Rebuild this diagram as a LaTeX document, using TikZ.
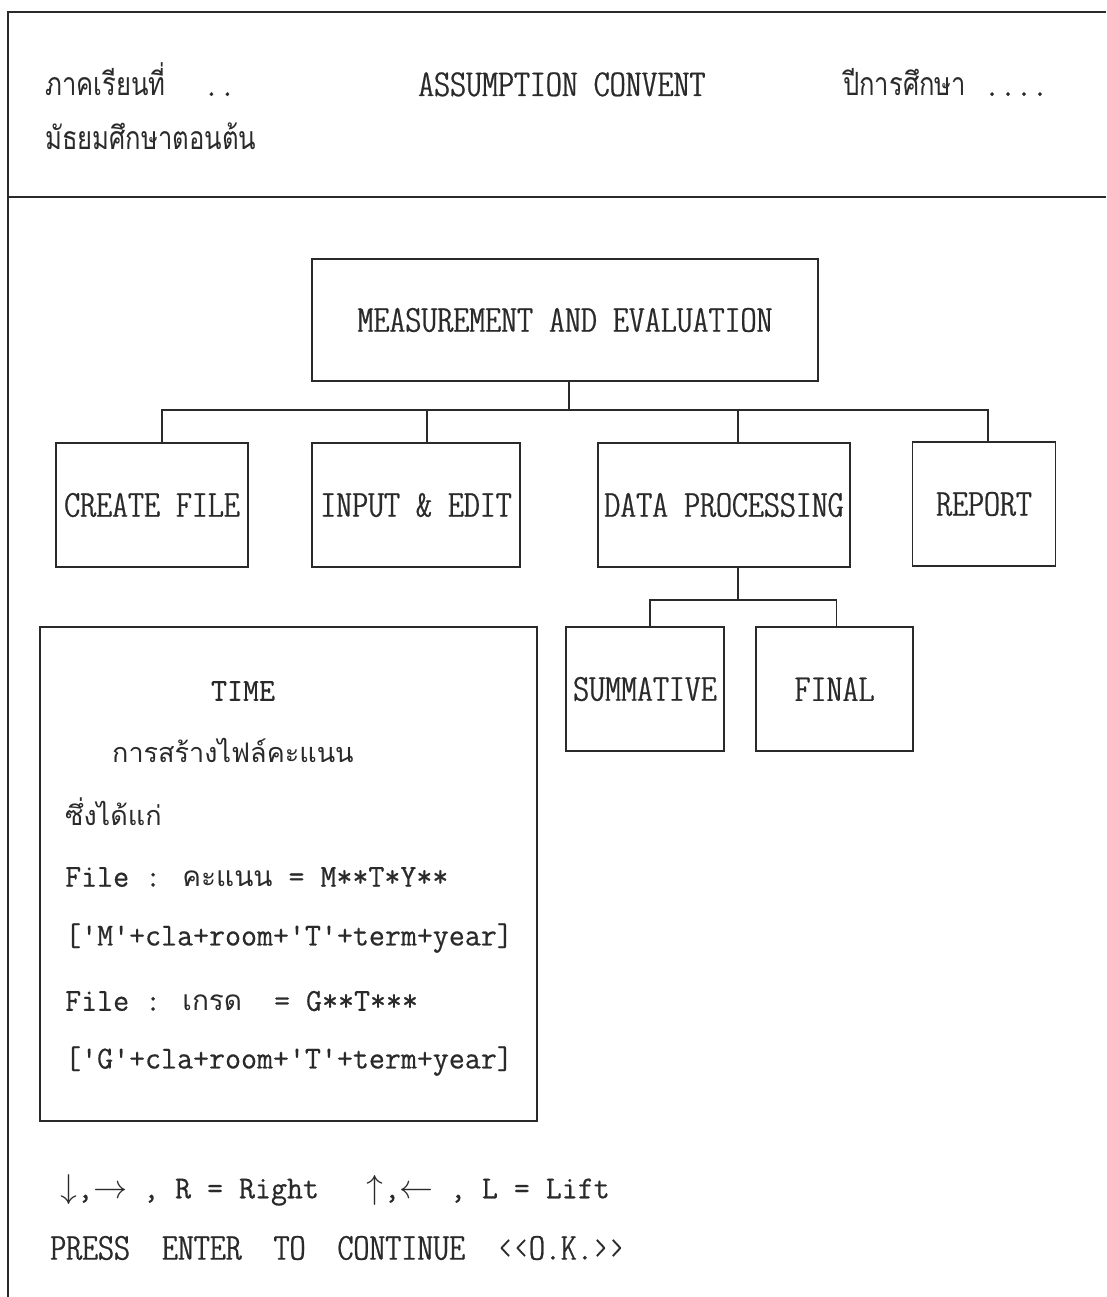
\documentclass[tikz,border=0pt]{standalone}
\usepackage{fontspec}
\setmainfont{Latin Modern Mono}
\newfontfamily\thai[Script=Thai]{Loma}
\newfontfamily\thaic[Script=Thai,FakeStretch=0.8]{Loma}
\newfontfamily\lbl[Extension=.otf,FakeStretch=1.2,FakeBold=0.6]{lmmonoltcond10-regular}
\newfontfamily\cour[FakeStretch=0.97,FakeBold=0.5]{Latin Modern Mono}
\newfontfamily\arrowf{Latin Modern Math}
\definecolor{ink}{HTML}{2A2A2A}
\newcommand\dotsfont{\lbl\fontsize{38}{42}\selectfont}
\tikzset{
  box/.style={draw=ink, line width=1.6pt, inner sep=0pt, font=\lbl\fontsize{38}{42}\selectfont, text=ink},
  link/.style={draw=ink, line width=1.6pt},
  frame/.style={draw=ink, line width=1.8pt},
  txt/.style={inner sep=0pt, anchor=west, text=ink},
  htxt/.style={inner sep=0pt, anchor=base west, text=ink},
  hdr/.style={htxt, font=\lbl\fontsize{38}{42}\selectfont},
  thaih/.style={htxt, font=\thaic\fontsize{32}{38}\selectfont},
  thaib/.style={txt, font=\thai\fontsize{27}{34}\selectfont},
  body/.style={txt, font=\cour\fontsize{32}{38}\selectfont},
}
\begin{document}
\begin{tikzpicture}[x=1pt,y=-1pt]
\useasboundingbox (0,0) rectangle (1106,1297);
% screen frame and header separator
\draw[frame] (1106,12) -- (8,12) -- (8,1297);
\draw[frame] (8,197) -- (1106,197);
% header
\node[thaih] (term) at (45,96) {ภาคเรียนที่\hspace*{38pt}{\dotsfont ..}};
\node[hdr] (school) at (418,96) {ASSUMPTION CONVENT};
\node[thaih] (year) at (843,96) {ปีการศึกษา\hspace*{18pt}{\dotsfont ....}};
\node[thaih] (level) at (45,150) {มัธยมศึกษาตอนต้น};
% menu tree
\node[box, minimum width=506, minimum height=122] (me) at (565,320) {MEASUREMENT AND EVALUATION};
\node[box, minimum width=192, minimum height=124] (cf) at (152,505) {CREATE FILE};
\node[box, minimum width=208, minimum height=124] (ie) at (416,505) {INPUT \& EDIT};
\node[box, minimum width=252, minimum height=124] (dp) at (724,505) {DATA PROCESSING};
\node[box, minimum width=143, minimum height=124] (rp) at (984,504) {REPORT};
\node[box, minimum width=158, minimum height=124] (sm) at (645,689) {SUMMATIVE};
\node[box, minimum width=157, minimum height=124] (fn) at (834.5,689) {FINAL};
% drop points on the box tops
\coordinate (cfin) at ([xshift=10]cf.north);
\coordinate (iein) at ([xshift=11]ie.north);
\coordinate (dpin) at ([xshift=14]dp.north);
\coordinate (rpin) at ([xshift=4]rp.north);
\coordinate (dpout) at ([xshift=14]dp.south);
\coordinate (smin) at ([xshift=5]sm.north);
\coordinate (fnin) at ([xshift=2]fn.north);
\coordinate (bus) at (569,410);
\coordinate (bus2) at (738,600);
\draw[link] ([xshift=4]me.south) -- (bus);
\draw[link] (cfin) |- (bus) -| (rpin);
\draw[link] (iein) -- (iein |- bus);
\draw[link] (dpin) -- (dpin |- bus);
\draw[link] (dpout) -- (bus2);
\draw[link] (smin) |- (bus2) -| (fnin);
% description panel
\node[draw=ink, line width=1.6pt, minimum width=497, minimum height=494, inner sep=0pt] (tb) at (288.5,874) {};
\node[body, anchor=center] (t1) at (243,691) {TIME};
\node[thaib] (t2) at (112,750) {การสร้างไฟล์คะแนน};
\node[thaib] (t3) at (65,812) {ซึ่งได้แก่};
\node[body] (t4) at (65,877) {File : {\thai\fontsize{28}{34}\selectfont คะแนน} = M**T*Y**};
\node[body] (t5) at (65,938) {['M'+cla+room+'T'+term+year]};
\node[body] (t6) at (65,1001) {File : {\thai\fontsize{28}{34}\selectfont เกรด}\ \ = G**T***};
\node[body] (t7) at (65,1061) {['G'+cla+room+'T'+term+year]};
% key help
\node[body] (k1) at (60,1190) {{\arrowf\fontsize{34}{38}\selectfont ↓},{\arrowf\fontsize{34}{38}\selectfont →} , R = Right \ \ {\arrowf\fontsize{34}{38}\selectfont ↑},{\arrowf\fontsize{34}{38}\selectfont ←} , L = Lift};
\node[txt, font=\lbl\fontsize{38}{42}\selectfont] (k2) at (50,1248) {PRESS \ ENTER \ TO \ CONTINUE \ ‹‹O.K.››};
\end{tikzpicture}
\end{document}
